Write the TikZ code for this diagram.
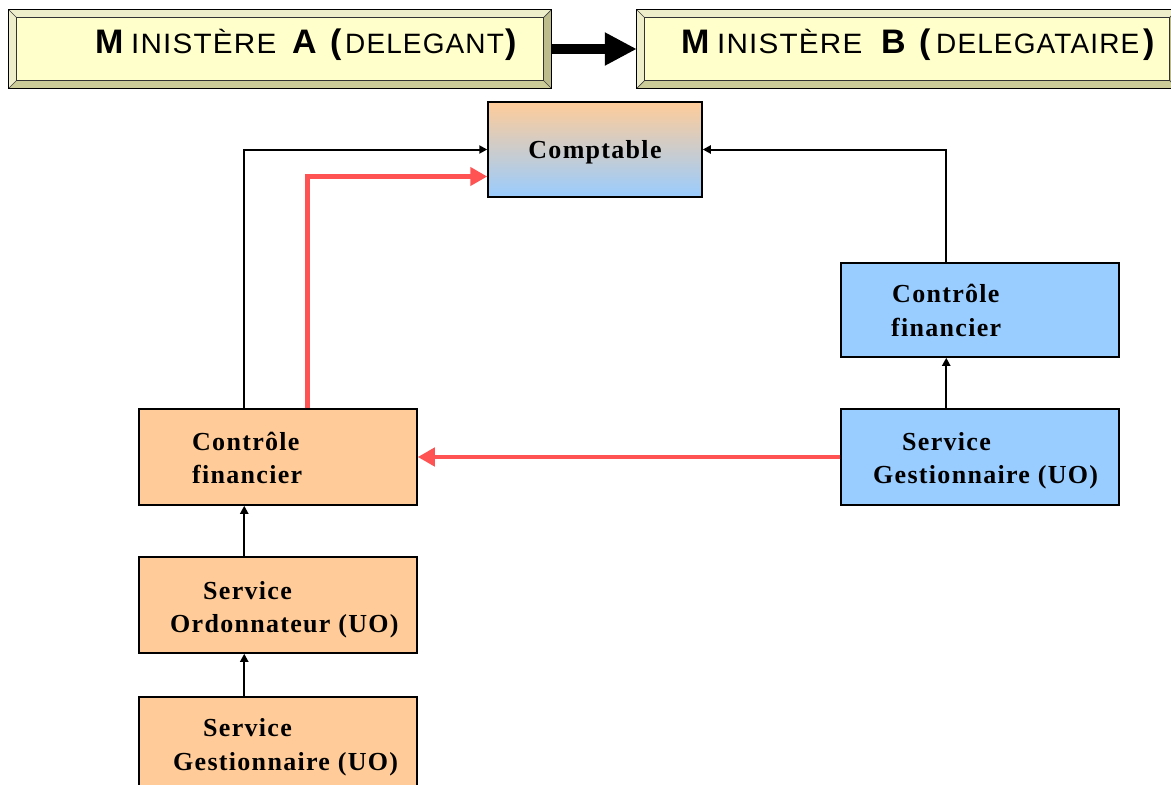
\documentclass[tikz,border=0pt]{standalone}
\usepackage{fontspec}
\usetikzlibrary{arrows.meta,calc}
\newfontfamily\hdrfont[LetterSpace=4]{Liberation Sans}
\newfontfamily\boxfont[LetterSpace=5]{Liberation Serif}
\definecolor{peach}{HTML}{FFCC99}
\definecolor{sky}{HTML}{99CCFF}
\definecolor{redline}{HTML}{FF5252}
\definecolor{cream}{HTML}{FFFFCC}
\definecolor{olive}{HTML}{CCCC99}
\definecolor{paleolive}{HTML}{EEEECB}
% bevelled frame drawn around an (invisible) node
\newcommand\bevelframe[1]{%
  \fill[paleolive] (#1.north west) rectangle (#1.south east);
  \fill[olive] (#1.south west) -- (#1.south east) -- ($(#1.south east)+(-8,-8)$) -- ($(#1.south west)+(8,-8)$) -- cycle;
  \fill[olive!92!black] (#1.south east) -- (#1.north east) -- ($(#1.north east)+(-8,8)$) -- ($(#1.south east)+(-8,-8)$) -- cycle;
  \draw[black!75, line width=0.7pt]
    (#1.north west) -- ($(#1.north west)+(8,8)$)
    (#1.north east) -- ($(#1.north east)+(-8,8)$)
    (#1.south west) -- ($(#1.south west)+(8,-8)$)
    (#1.south east) -- ($(#1.south east)+(-8,-8)$);
  \filldraw[fill=cream, draw=black!80, line width=0.8pt] ($(#1.north west)+(8,8)$) rectangle ($(#1.south east)+(-8,-8)$);
  \draw[black, line width=1.2pt] (#1.north west) rectangle (#1.south east);
}
\tikzset{
  hdrbox/.style={draw=none, inner sep=0pt, minimum height=78pt},
  hdrsmall/.style={anchor=base west, inner sep=0pt, font={\hdrfont\fontsize{28}{30}\selectfont}},
  hdrbig/.style={anchor=base west, inner sep=0pt, font={\hdrfont\fontsize{34}{36}\selectfont\bfseries}},
  card/.style={draw=black, line width=1.5pt, minimum width=278pt, minimum height=96pt, inner sep=0pt},
  orangecard/.style={card, fill=peach},
  bluecard/.style={card, fill=sky},
  txt/.style={anchor=base west, inner sep=0pt, font={\boxfont\bfseries\fontsize{26}{33}\selectfont}},
  blk/.style={draw=black, line width=2pt, -{Triangle[length=8pt,width=8pt]}},
  redarr/.style={draw=redline, line width=4.5pt, -{Triangle[length=17pt,width=18pt]}},
}
\begin{document}
\begin{tikzpicture}[x=1pt,y=-1pt]
\useasboundingbox (0,0) rectangle (1171,785);

% headers
\node[hdrbox, minimum width=542pt] (minA) at (280,49) {};
\node[hdrbox, minimum width=540pt] (minB) at (907,49) {};
\bevelframe{minA}
\bevelframe{minB}
% small-capitals title of ministry A
\node[hdrbig]   (minA1) at (95,53)  {M};
\node[hdrsmall] (minA2) at (131,53) {\scalebox{1.06}[1]{INISTÈRE}};
\node[hdrbig]   (minA3) at (292,53) {A};
\node[hdrbig]   (minA4) at (330,53) {(};
\node[hdrsmall] (minA5) at (345,53) {DELEGANT};
\node[hdrbig]   (minA6) at (505,53) {)};
% small-capitals title of ministry B
\node[hdrbig]   (minB1) at (681,53)  {M};
\node[hdrsmall] (minB2) at (717,53)  {\scalebox{1.06}[1]{INISTÈRE}};
\node[hdrbig]   (minB3) at (881,53)  {B};
\node[hdrbig]   (minB4) at (919,53)  {(};
\node[hdrsmall] (minB5) at (936,53)  {DELEGATAIRE};
\node[hdrbig]   (minB6) at (1143,53) {)};
\draw[line width=10pt, -{Triangle[length=32pt,width=31pt]}] (minA.east) -- (minB.west);

% boxes
\node[card, minimum width=214pt, minimum height=95pt, top color=peach, bottom color=sky, text depth=0pt,
      font={\boxfont\bfseries\fontsize{26}{33}\selectfont}] (compt) at (595,149.5) {Comptable};
\node[orangecard] (cfA) at (278,457) {};
\node[orangecard] (soA) at (278,605) {};
\node[orangecard] (sgA) at (278,745) {};
\node[bluecard, minimum height=94pt] (cfB) at (980,310) {};
\node[bluecard] (sgB) at (980,457) {};

% box texts
\node[txt] (cfA1) at (192,450) {Contrôle};
\node[txt] (cfA2) at (192,483) {financier};
\node[txt] (soA1) at (203,599) {Service};
\node[txt] (soA2) at (170,632) {Ordonnateur (UO)};
\node[txt] (sgA1) at (203,736) {Service};
\node[txt] (sgA2) at (173,770) {Gestionnaire (UO)};
\node[txt] (cfB1) at (892,302) {Contrôle};
\node[txt] (cfB2) at (891,336) {financier};
\node[txt] (sgB1) at (902,450) {Service};
\node[txt] (sgB2) at (873,483) {Gestionnaire (UO)};

% connectors
\draw[blk] ($(cfA.north west)+(106,0)$) |- (compt.west);
\draw[redarr] ($(cfA.north west)+(169,0)$) |- ($(compt.west)+(0,27)$);
\draw[blk] ($(cfB.north west)+(106,0)$) |- (compt.east);
\draw[blk] ($(sgB.north west)+(106,0)$) -- ($(cfB.south west)+(106,0)$);
\draw[redarr] (sgB.west) -- (cfA.east);
\draw[blk] ($(soA.north west)+(106,0)$) -- ($(cfA.south west)+(106,0)$);
\draw[blk] ($(sgA.north west)+(106,0)$) -- ($(soA.south west)+(106,0)$);
\end{tikzpicture}
\end{document}
